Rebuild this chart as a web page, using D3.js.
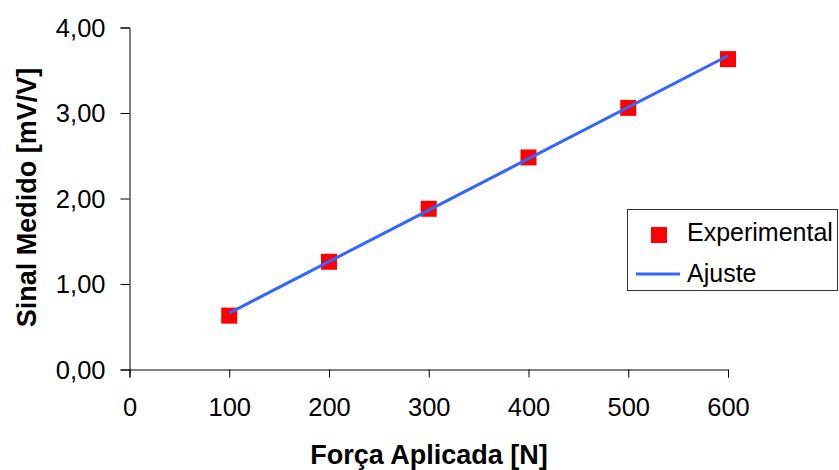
<!DOCTYPE html>
<html>
<head>
<meta charset="utf-8">
<script src="https://cdn.jsdelivr.net/npm/d3@7"></script>
<style>
  html, body { margin: 0; padding: 0; background: #fff; }
  svg { display: block; font-family: "Liberation Sans", Arial, sans-serif; }
</style>
</head>
<body>
<svg id="chart" width="839" height="470"></svg>
<script>
// Data
const forces = [100, 200, 300, 400, 500, 600];
const measured = [0.63, 1.26, 1.88, 2.48, 3.06, 3.63];
const fitForces = [100, 600];
const fitValues = [0.66, 3.67];
const xTicks = [0, 100, 200, 300, 400, 500, 600];
const yTicks = [0, 1, 2, 3, 4];
const xTitle = "Força Aplicada [N]";
const yTitle = "Sinal Medido [mV/V]";
const legendLabels = ["Experimental", "Ajuste"];

const svg = d3.select("#chart");
const plotLeft = 129.5, plotRight = 728, plotTop = 27.5, plotBottom = 369.5;

const x = d3.scaleLinear().domain([0, 600]).range([plotLeft, plotRight]);
const y = d3.scaleLinear().domain([0, 4]).range([plotBottom, plotTop]);

// Y axis
const yAxis = svg.append("g").attr("transform", `translate(${plotLeft},0)`)
  .call(d3.axisLeft(y).tickValues(yTicks).tickSizeOuter(0).tickSize(9).tickPadding(15)
    .tickFormat(d => d3.format(".2f")(d).replace(".", ",")));
// X axis
const xAxis = svg.append("g").attr("transform", `translate(0,${plotBottom})`)
  .call(d3.axisBottom(x).tickValues(xTicks).tickSizeOuter(0).tickSize(8).tickPadding(20)
    .tickFormat(d3.format("d")));

[xAxis, yAxis].forEach(g => {
  g.select(".domain").attr("stroke", "#000").attr("stroke-width", 1);
  g.selectAll(".tick line").attr("stroke", "#000").attr("stroke-width", 1);
  g.selectAll(".tick text").attr("fill", "#000").style("font-size", "25.5px")
    .style("font-family", "'Liberation Sans', Arial, sans-serif");
});
yAxis.selectAll(".tick text").attr("dy", "0.35em");

const ms = 16;
// Points
svg.append("g").selectAll("rect")
  .data(forces.map((f, i) => [f, measured[i]]))
  .join("rect")
  .attr("x", d => x(d[0]) - ms / 2)
  .attr("y", d => y(d[1]) - ms / 2)
  .attr("width", ms).attr("height", ms)
  .attr("fill", "#ff0000");

// Fit line (on top of markers)
svg.append("path")
  .datum(fitForces.map((f, i) => [f, fitValues[i]]))
  .attr("d", d3.line().x(d => x(d[0])).y(d => y(d[1])))
  .attr("fill", "none").attr("stroke", "#3366ff").attr("stroke-width", 3);

// Axis titles
svg.append("text")
  .attr("x", 429).attr("y", 464)
  .attr("text-anchor", "middle")
  .style("font-size", "27px").style("font-weight", "bold")
  .text(xTitle);
svg.append("text")
  .attr("transform", "translate(36,197.5) rotate(-90)")
  .attr("text-anchor", "middle")
  .style("font-size", "27px").style("font-weight", "bold")
  .text(yTitle);

// Legend
const lg = svg.append("g");
lg.append("rect").attr("x", 627.5).attr("y", 209.5).attr("width", 210).attr("height", 81)
  .attr("fill", "#fff").attr("stroke", "#333").attr("stroke-width", 1);
lg.append("rect").attr("x", 659 - ms / 2).attr("y", 235 - ms / 2).attr("width", ms).attr("height", ms)
  .attr("fill", "#ff0000");
lg.append("line").attr("x1", 636).attr("x2", 680).attr("y1", 274).attr("y2", 274)
  .attr("stroke", "#3366ff").attr("stroke-width", 3);
lg.append("text").attr("x", 687).attr("y", 241).style("font-size", "25px").text(legendLabels[0]);
lg.append("text").attr("x", 687).attr("y", 281.5).style("font-size", "25px").text(legendLabels[1]);
</script>
</body>
</html>
